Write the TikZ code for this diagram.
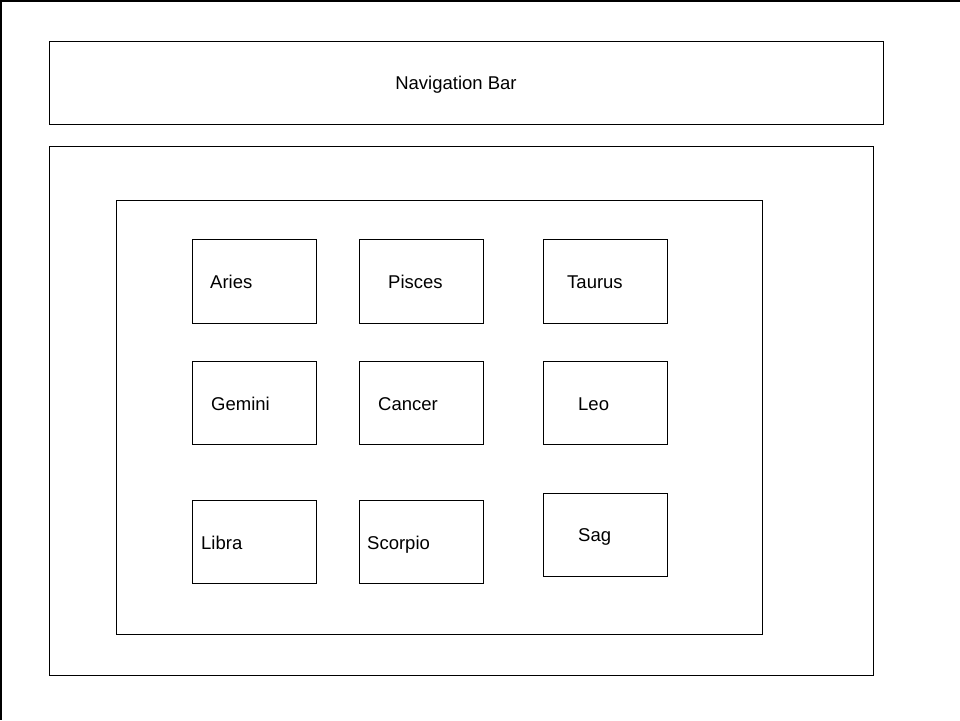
\documentclass[tikz,border=0pt]{standalone}
\usepackage{fontspec}
\setmainfont{Liberation Sans}
\begin{document}
\begin{tikzpicture}[x=1pt,y=-1pt,
  box/.style={draw=black,line width=0.9pt},
  lbl/.style={inner sep=0pt,anchor=base west,font=\fontsize{18.5}{22}\selectfont}]
\useasboundingbox (0,0) rectangle (960,720);
\fill[white] (0,0) rectangle (960,720);
\draw[line width=1.5pt] (960,0.75) -- (0.75,0.75) -- (0.75,720);
% navigation bar
\node[box,minimum width=834pt,minimum height=83pt,inner sep=0pt] (nav) at (466,82.5) {};
\node[inner sep=0pt,anchor=base,font=\fontsize{18.5}{22}\selectfont] (navt) at (456,89.8) {Navigation Bar};
% containers
\draw[box] (49,146) rectangle (873,675);
\draw[box] (116,200) rectangle (762,634);
% cards
\foreach \n/\x/\ya/\yb in {aries/192/239/323, pisces/359/239/323, taurus/543/239/323,
  gemini/192/361/444, cancer/359/361/444, leo/543/361/444,
  libra/192/500/583, scorpio/359/500/583, sag/543/493/576}{
  \draw[box] (\x,\ya) rectangle ++(124,\yb-\ya) node[pos=0.5,inner sep=0pt] (\n) {};
}
\node[lbl] (t1) at (210,288) {Aries};
\node[lbl] (t2) at (388,288) {Pisces};
\node[lbl] (t3) at (567,288) {Taurus};
\node[lbl] (t4) at (211,410) {Gemini};
\node[lbl] (t5) at (378,410) {Cancer};
\node[lbl] (t6) at (578,410) {Leo};
\node[lbl] (t7) at (201,549) {Libra};
\node[lbl] (t8) at (367,549) {Scorpio};
\node[lbl] (t9) at (578,541) {Sag};
\end{tikzpicture}
\end{document}
